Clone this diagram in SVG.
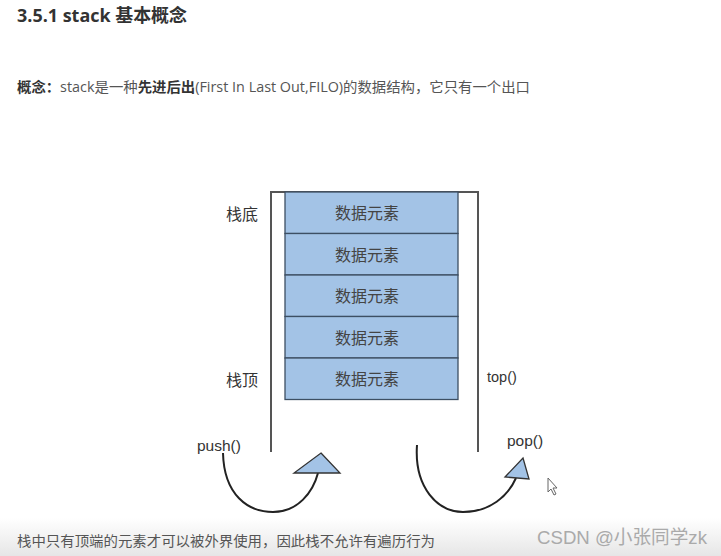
<svg xmlns="http://www.w3.org/2000/svg" width="721" height="556" viewBox="0 0 721 556">
<defs>
<linearGradient id="bg" x1="0" y1="0" x2="0" y2="1">
<stop offset="0" stop-color="#ffffff"/>
<stop offset="1" stop-color="#e6e6e6"/>
</linearGradient>
<style>
.t{font-family:"Open Sans","Noto Sans CJK SC",sans-serif;fill:#555}
.d{font-family:"Liberation Sans","Noto Sans CJK SC",sans-serif;fill:#333}
.c{font-family:"Liberation Sans","Noto Sans CJK SC",sans-serif;fill:#444}
.cell{fill:#a3c3e6;stroke:#3d4f63;stroke-width:1.3}
.wall{stroke:#555;stroke-width:2;fill:none}
.arc{stroke:#222;stroke-width:2;fill:none}
.tri{fill:#a3c3e6;stroke:#333;stroke-width:1.3}
</style>
</defs>
<rect width="721" height="556" fill="#ffffff"/>
<rect x="0" y="518" width="721" height="38" fill="url(#bg)"/>
<text class="t" x="17" y="22" font-size="18" font-weight="bold" style="fill:#333" textLength="170" lengthAdjust="spacingAndGlyphs">3.5.1 stack 基本概念</text>
<text class="t" x="17" y="92" font-size="14" textLength="513" lengthAdjust="spacingAndGlyphs"><tspan font-weight="bold" style="fill:#333">概念：</tspan>stack是一种<tspan font-weight="bold" style="fill:#333">先进后出</tspan>(First In Last Out,FILO)的数据结构，它只有一个出口</text>
<g id="container">
<path class="wall" d="M271,452 V192 H478 V452"/>
</g>
<g id="cell1"><rect class="cell" x="285" y="192" width="173" height="41.5"/><text class="c" x="367" y="219" font-size="16" text-anchor="middle">数据元素</text></g>
<g id="cell2"><rect class="cell" x="285" y="233.5" width="173" height="41.5"/><text class="c" x="367" y="260.5" font-size="16" text-anchor="middle">数据元素</text></g>
<g id="cell3"><rect class="cell" x="285" y="275" width="173" height="41.5"/><text class="c" x="367" y="302" font-size="16" text-anchor="middle">数据元素</text></g>
<g id="cell4"><rect class="cell" x="285" y="316.5" width="173" height="41.5"/><text class="c" x="367" y="343.5" font-size="16" text-anchor="middle">数据元素</text></g>
<g id="cell5"><rect class="cell" x="285" y="358" width="173" height="41.5"/><text class="c" x="367" y="385" font-size="16" text-anchor="middle">数据元素</text></g>
<g id="label-bottom"><text class="d" x="226" y="220" font-size="16">栈底</text></g>
<g id="label-top"><text class="d" x="226" y="386" font-size="16">栈顶</text></g>
<g id="label-topfn"><text class="d" x="487" y="382" font-size="14.5">top()</text></g>
<g id="label-push"><text class="d" x="197" y="451" font-size="15.5">push()</text></g>
<g id="label-pop"><text class="d" x="507" y="446" font-size="15.5">pop()</text></g>
<g id="connectors">
<path class="arc" d="M223,453 C224,495 248,512 273,512 C298,512 313,492 318,473"/>
<polygon class="tri" points="321,453 340,473 294,473"/>
<path class="arc" d="M417,445 C414,488 438,512 463,512 C490,512 508,496 516,478"/>
<polygon class="tri" points="523,458 529,479 505,477"/>
</g>
<polygon points="548,478 548,492 551,489 554,495 556,494 553,488 557,488" fill="#fff" stroke="#666" stroke-width="1"/>
<text class="t" x="17" y="546" font-size="14" textLength="418" lengthAdjust="spacingAndGlyphs">栈中只有顶端的元素才可以被外界使用，因此栈不允许有遍历行为</text>
<text x="537" y="544" font-size="19" font-family="Liberation Sans,Noto Sans CJK SC,sans-serif" fill="#aaa" textLength="170" lengthAdjust="spacingAndGlyphs">CSDN @小张同学zk</text>
</svg>
